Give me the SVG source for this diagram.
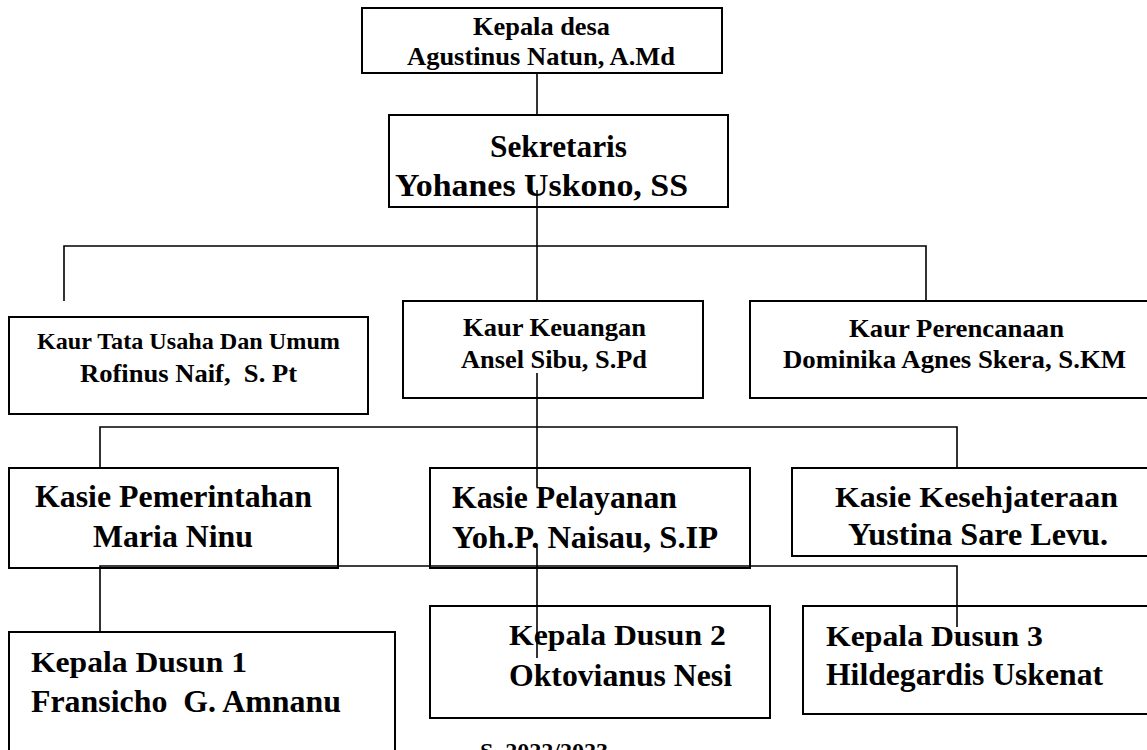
<svg xmlns="http://www.w3.org/2000/svg" width="1147" height="750" viewBox="0 0 1147 750">
<style>
  .box { fill: #ffffff; stroke: #000000; stroke-width: 2; }
  .ln { fill: none; stroke: #000000; stroke-width: 1.6; }
  text { font-family: "Liberation Serif", "Times New Roman", serif; font-weight: bold; fill: #000000; white-space: pre; }
  .s24 { font-size: 24px; }
  .s25 { font-size: 25px; }
  .s26 { font-size: 26px; }
  .s30 { font-size: 30px; }
  .s31 { font-size: 31px; }
  .s32 { font-size: 32px; }
</style>
<rect x="0" y="0" width="1147" height="750" fill="#ffffff"/>

<g id="kepala-desa">
  <rect class="box" x="362" y="8" width="360" height="65"/>
  <text class="s25" x="473" y="35" textLength="137" lengthAdjust="spacingAndGlyphs">Kepala desa</text>
  <text class="s25" x="407" y="65" textLength="268" lengthAdjust="spacingAndGlyphs">Agustinus Natun, A.Md</text>
</g>

<g id="sekretaris">
  <rect class="box" x="389" y="115" width="339" height="92"/>
  <text class="s32" x="490" y="157" textLength="137" lengthAdjust="spacingAndGlyphs">Sekretaris</text>
  <text class="s32" x="395" y="196" textLength="293" lengthAdjust="spacingAndGlyphs">Yohanes Uskono, SS</text>
</g>

<g id="kaur-tu">
  <rect class="box" x="9" y="317" width="359" height="97"/>
  <text class="s24" x="37" y="349" textLength="303" lengthAdjust="spacingAndGlyphs">Kaur Tata Usaha Dan Umum</text>
  <text class="s26" x="80" y="382" textLength="217" lengthAdjust="spacingAndGlyphs">Rofinus Naif,  S. Pt</text>
</g>

<g id="kaur-keuangan">
  <rect class="box" x="403" y="301" width="300" height="97"/>
  <text class="s26" x="463" y="336" textLength="183" lengthAdjust="spacingAndGlyphs">Kaur Keuangan</text>
  <text class="s26" x="461" y="368" textLength="186" lengthAdjust="spacingAndGlyphs">Ansel Sibu, S.Pd</text>
</g>

<g id="kaur-perencanaan">
  <rect class="box" x="750" y="301" width="403" height="97"/>
  <text class="s25" x="849" y="337" textLength="215" lengthAdjust="spacingAndGlyphs">Kaur Perencanaan</text>
  <text class="s26" x="783" y="368" textLength="343" lengthAdjust="spacingAndGlyphs">Dominika Agnes Skera, S.KM</text>
</g>

<g id="kasie-pemerintahan">
  <rect class="box" x="9" y="468" width="329" height="100"/>
  <text class="s31" x="35" y="507" textLength="277" lengthAdjust="spacingAndGlyphs">Kasie Pemerintahan</text>
  <text class="s31" x="93" y="547" textLength="160" lengthAdjust="spacingAndGlyphs">Maria Ninu</text>
</g>

<g id="kasie-pelayanan">
  <rect class="box" x="430" y="468" width="320" height="100"/>
  <text class="s31" x="452" y="508" textLength="225" lengthAdjust="spacingAndGlyphs">Kasie Pelayanan</text>
  <text class="s31" x="452" y="548" textLength="266" lengthAdjust="spacingAndGlyphs">Yoh.P. Naisau, S.IP</text>
</g>

<g id="kasie-kesejahteraan">
  <rect class="box" x="792" y="468" width="361" height="88"/>
  <text class="s30" x="835" y="507" textLength="283" lengthAdjust="spacingAndGlyphs">Kasie Kesehjateraan</text>
  <text class="s31" x="848" y="545" textLength="260" lengthAdjust="spacingAndGlyphs">Yustina Sare Levu.</text>
</g>

<g id="kepala-dusun-1">
  <rect class="box" x="9" y="632" width="386" height="130"/>
  <text class="s30" x="31" y="672" textLength="216" lengthAdjust="spacingAndGlyphs">Kepala Dusun 1</text>
  <text class="s31" x="31" y="712" textLength="310" lengthAdjust="spacingAndGlyphs">Fransicho  G. Amnanu</text>
</g>

<g id="kepala-dusun-2">
  <rect class="box" x="430" y="606" width="340" height="112"/>
  <text class="s30" x="509" y="645" textLength="217" lengthAdjust="spacingAndGlyphs">Kepala Dusun 2</text>
  <text class="s31" x="509" y="686" textLength="223" lengthAdjust="spacingAndGlyphs">Oktovianus Nesi</text>
</g>

<g id="kepala-dusun-3">
  <rect class="box" x="803" y="606" width="350" height="108"/>
  <text class="s30" x="826" y="646" textLength="217" lengthAdjust="spacingAndGlyphs">Kepala Dusun 3</text>
  <text class="s31" x="826" y="685" textLength="277" lengthAdjust="spacingAndGlyphs">Hildegardis Uskenat</text>
</g>

<g id="connectors">
  <line class="ln" x1="537" y1="73" x2="537" y2="115"/>
  <line class="ln" x1="537" y1="190" x2="537" y2="301"/>
  <polyline class="ln" points="64,301 64,246 926,246 926,301"/>
  <line class="ln" x1="537" y1="373" x2="537" y2="487"/>
  <polyline class="ln" points="100,468 100,427 957,427 957,468"/>
  <polyline class="ln" points="100,632 100,566 957,566 957,627"/>
  <line class="ln" x1="537" y1="547" x2="537" y2="658"/>
</g>

<text class="s24" x="480" y="759">S  2022/2023</text>
</svg>
